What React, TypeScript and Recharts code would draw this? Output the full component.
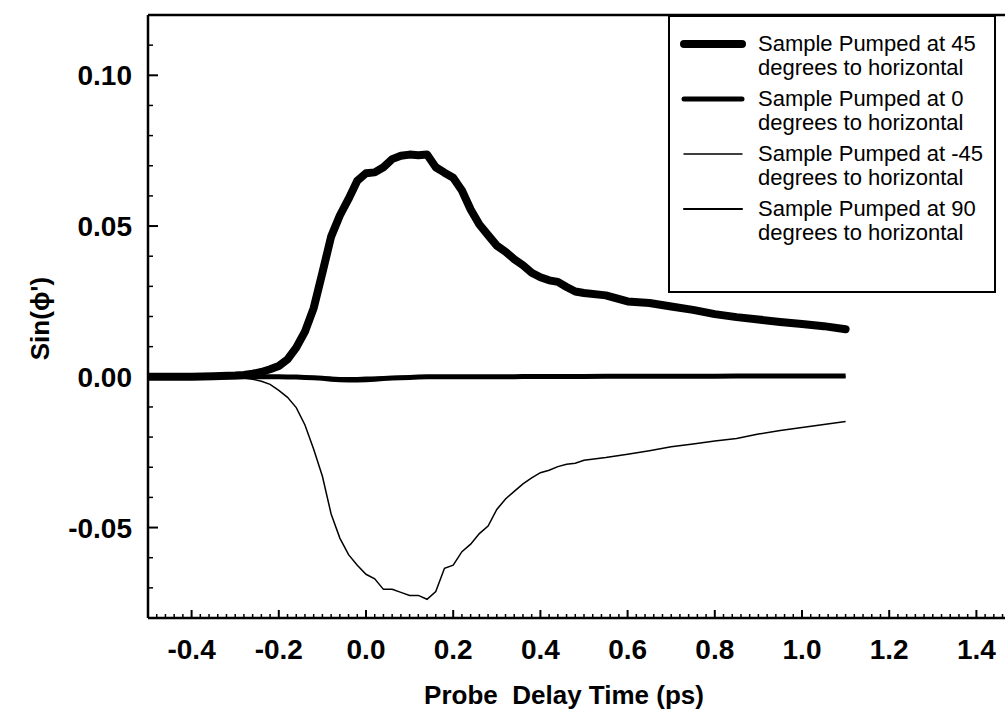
import React from 'react';
import { LineChart, Line, XAxis, YAxis, ReferenceLine, Legend } from 'recharts';

// probe delay (ps)
const time = [
  -0.5, -0.45, -0.4, -0.35, -0.3,
  -0.28, -0.26, -0.24, -0.22, -0.2, -0.18, -0.16, -0.14, -0.12, -0.1,
  -0.08, -0.06, -0.04, -0.02, 0, 0.02, 0.04, 0.06, 0.08, 0.1,
  0.12, 0.14, 0.16, 0.18, 0.2, 0.22, 0.24, 0.26, 0.28, 0.3,
  0.32, 0.34, 0.36, 0.38, 0.4, 0.42, 0.44, 0.46, 0.48, 0.5,
  0.55, 0.6, 0.65, 0.7, 0.75, 0.8, 0.85, 0.9, 0.95, 1.0, 1.05, 1.1,
];

const pumped45 = [
  0, 0, 0, 0.0002, 0.0004,
  0.0006, 0.001, 0.0016, 0.0025, 0.0036, 0.0058, 0.0097, 0.015, 0.0228, 0.0345,
  0.0465, 0.0535, 0.059, 0.065, 0.0675, 0.0678, 0.0695, 0.0722, 0.0733, 0.0737,
  0.0735, 0.0737, 0.0695, 0.0677, 0.066, 0.0618, 0.0555, 0.0505, 0.047, 0.0435,
  0.0415, 0.039, 0.037, 0.0345, 0.033, 0.032, 0.0315, 0.0298, 0.0283, 0.0278,
  0.027, 0.025, 0.0245, 0.0233, 0.0222, 0.0208, 0.0198, 0.019, 0.0182, 0.0175, 0.0168, 0.0158,
];

const pumped0 = [
  0, 0, 0, 0, 0,
  0, 0, 0, 0, 0, -0.0001, -0.0001, -0.0002, -0.0003, -0.0005,
  -0.0008, -0.001, -0.0011, -0.0011, -0.001, -0.0008, -0.0006, -0.0004, -0.0003, -0.0002,
  -0.0001, 0, 0, 0, 0, 0, 0, 0, 0, 0,
  0, 0, 0.0001, 0.0001, 0.0001, 0.0001, 0.0001, 0.0001, 0.0001, 0.0001,
  0.0002, 0.0002, 0.0002, 0.0002, 0.0002, 0.0002, 0.0003, 0.0003, 0.0003, 0.0003, 0.0003, 0.0003,
];

const pumpedMinus45 = [
  0, 0, 0, 0, -0.0002,
  -0.0004, -0.0008, -0.0015, -0.0025, -0.0045, -0.0068, -0.0102, -0.016, -0.024, -0.033,
  -0.0455, -0.0535, -0.059, -0.0625, -0.0655, -0.067, -0.0705, -0.0705, -0.0715, -0.0725,
  -0.0725, -0.0738, -0.0712, -0.0635, -0.0625, -0.058, -0.0555, -0.052, -0.0495, -0.044,
  -0.0405, -0.038, -0.0355, -0.0335, -0.0318, -0.031, -0.0298, -0.029, -0.0287, -0.0277,
  -0.0268, -0.0257, -0.0245, -0.0232, -0.0223, -0.0213, -0.0205, -0.019, -0.0178, -0.0168, -0.0158, -0.0148,
];

const pumped90 = [
  0, 0, 0, 0, 0,
  0, 0, 0, 0, 0, 0, 0, -0.0001, -0.0001, -0.0002,
  -0.0003, -0.0004, -0.0004, -0.0004, -0.0003, -0.0003, -0.0002, -0.0001, 0, 0,
  0, 0, 0, 0, 0, 0, 0, 0, 0, 0,
  0, 0, 0, 0, 0, 0, 0, 0, 0, 0,
  0, 0.0001, 0.0001, 0.0001, 0.0001, 0.0001, 0.0001, 0.0001, 0.0001, 0.0001, 0.0001, 0.0001,
];

const seriesNames = [
  'Sample Pumped at 45',
  'Sample Pumped at 0',
  'Sample Pumped at -45',
  'Sample Pumped at 90',
];
const seriesWidths = [8, 5, 1.5, 2.2];

const xMajorTicks = [-0.4, -0.2, 0, 0.2, 0.4, 0.6, 0.8, 1.0, 1.2, 1.4];
const xTickLabels = ['-0.4', '-0.2', '0.0', '0.2', '0.4', '0.6', '0.8', '1.0', '1.2', '1.4'];
const yMajorTicks = [-0.05, 0, 0.05, 0.1];
const yTickLabels = ['-0.05', '0.00', '0.05', '0.10'];

// minor ticks every 0.02 (x) and 0.01 (y)
const xTicks = Array.from({ length: 101 }, (_, i) => (-50 + 2 * i) / 100);
const yTicks = Array.from({ length: 21 }, (_, i) => (-8 + i) / 100);

const data = time.map((t, i) => ({
  t,
  s45: pumped45[i],
  s0: pumped0[i],
  sm45: pumpedMinus45[i],
  s90: pumped90[i],
}));

const FONT = '"Liberation Sans", Arial, "DejaVu Sans", sans-serif';

const findMajor = (v: number, majors: number[]) =>
  majors.findIndex((m) => Math.abs(m - v) < 1e-9);

const XTick = (props: any) => {
  const { x, y, payload } = props;
  const idx = findMajor(payload.value, xMajorTicks);
  const major = idx >= 0;
  return (
    <g>
      <line x1={x} x2={x} y1={y} y2={y - (major ? 8 : 4)} stroke="#000" strokeWidth={major ? 2 : 1.5} />
      {major && (
        <text x={x} y={y + 41} textAnchor="middle" fontFamily={FONT} fontWeight="bold" fontSize={28} fill="#000">
          {xTickLabels[idx]}
        </text>
      )}
    </g>
  );
};

const YTick = (props: any) => {
  const { x, y, payload } = props;
  const idx = findMajor(payload.value, yMajorTicks);
  const major = idx >= 0;
  return (
    <g>
      <line x1={x} x2={x + (major ? 10 : 5)} y1={y} y2={y} stroke="#000" strokeWidth={major ? 2 : 1.5} />
      {major && (
        <text x={x - 16} y={y + 10} textAnchor="end" fontFamily={FONT} fontWeight="bold" fontSize={28} fill="#000">
          {yTickLabels[idx]}
        </text>
      )}
    </g>
  );
};

const LegendBox = () => (
  <div
    style={{
      width: 328,
      height: 278,
      boxSizing: 'border-box',
      border: '2px solid #000',
      background: '#fff',
      paddingTop: 15,
      fontFamily: FONT,
      fontSize: 22,
      lineHeight: '24px',
      color: '#000',
    }}
  >
    {seriesNames.map((name, i) => (
      <div key={name} style={{ display: 'flex', height: 55 }}>
        <svg width={88} height={24} style={{ flex: 'none' }}>
          <line x1={14} x2={72} y1={12} y2={12} stroke="#000" strokeWidth={seriesWidths[i]} strokeLinecap="round" />
        </svg>
        <div>
          {name}
          <br />
          degrees to horizontal
        </div>
      </div>
    ))}
  </div>
);

export default function App() {
  return (
    <div style={{ position: 'absolute', left: 0, top: 0, width: 1005, height: 719, overflow: 'hidden', background: '#fff' }}>
      <LineChart width={1040} height={719} data={data} margin={{ top: 15, right: 20, left: 0, bottom: 0 }}>
        <XAxis
          dataKey="t"
          type="number"
          domain={[-0.5, 1.5]}
          ticks={xTicks}
          interval={0}
          tickSize={0}
          tickMargin={0}
          tick={XTick}
          tickLine={false}
          axisLine={{ stroke: '#000', strokeWidth: 2.5 }}
          height={101}
          allowDataOverflow
          label={{
            content: (p: any) => {
              const vb = p.viewBox;
              return (
                <text
                  x={vb.x + 416}
                  y={vb.y + 86}
                  textAnchor="middle"
                  fontFamily={FONT}
                  fontWeight="bold"
                  fontSize={26}
                  fill="#000"
                  style={{ whiteSpace: 'pre' }}
                >
                  {'Probe  Delay Time (ps)'}
                </text>
              );
            },
          }}
        />
        <YAxis
          type="number"
          domain={[-0.08, 0.12]}
          ticks={yTicks}
          interval={0}
          tickSize={0}
          tickMargin={0}
          tick={YTick}
          tickLine={false}
          axisLine={{ stroke: '#000', strokeWidth: 2.5 }}
          width={148}
          allowDataOverflow
          label={{
            content: (p: any) => {
              const vb = p.viewBox;
              const cx = vb.x + 40;
              const cy = vb.y + vb.height / 2 + 2;
              return (
                <text
                  x={cx}
                  y={cy}
                  transform={`rotate(-90, ${cx}, ${cy})`}
                  textAnchor="middle"
                  dominantBaseline="central"
                  fontFamily={FONT}
                  fontWeight="bold"
                  fontSize={26}
                  fill="#000"
                >
                  {"Sin(\u03D5')"}
                </text>
              );
            },
          }}
        />
        <ReferenceLine y={0.12} stroke="#000" strokeWidth={2.5} />
        <Line dataKey="s90" name={seriesNames[3]} stroke="#000" strokeWidth={seriesWidths[3]} dot={false} isAnimationActive={false} />
        <Line dataKey="sm45" name={seriesNames[2]} stroke="#000" strokeWidth={seriesWidths[2]} dot={false} isAnimationActive={false} />
        <Line dataKey="s0" name={seriesNames[1]} stroke="#000" strokeWidth={seriesWidths[1]} dot={false} isAnimationActive={false} />
        <Line dataKey="s45" name={seriesNames[0]} stroke="#000" strokeWidth={seriesWidths[0]} strokeLinecap="round" strokeLinejoin="round" dot={false} isAnimationActive={false} />
        <Legend
          layout="horizontal"
          verticalAlign="middle"
          align="center"
          wrapperStyle={{ top: 15, left: 668, width: 328, height: 278 }}
          content={() => <LegendBox />}
        />
      </LineChart>
    </div>
  );
}
